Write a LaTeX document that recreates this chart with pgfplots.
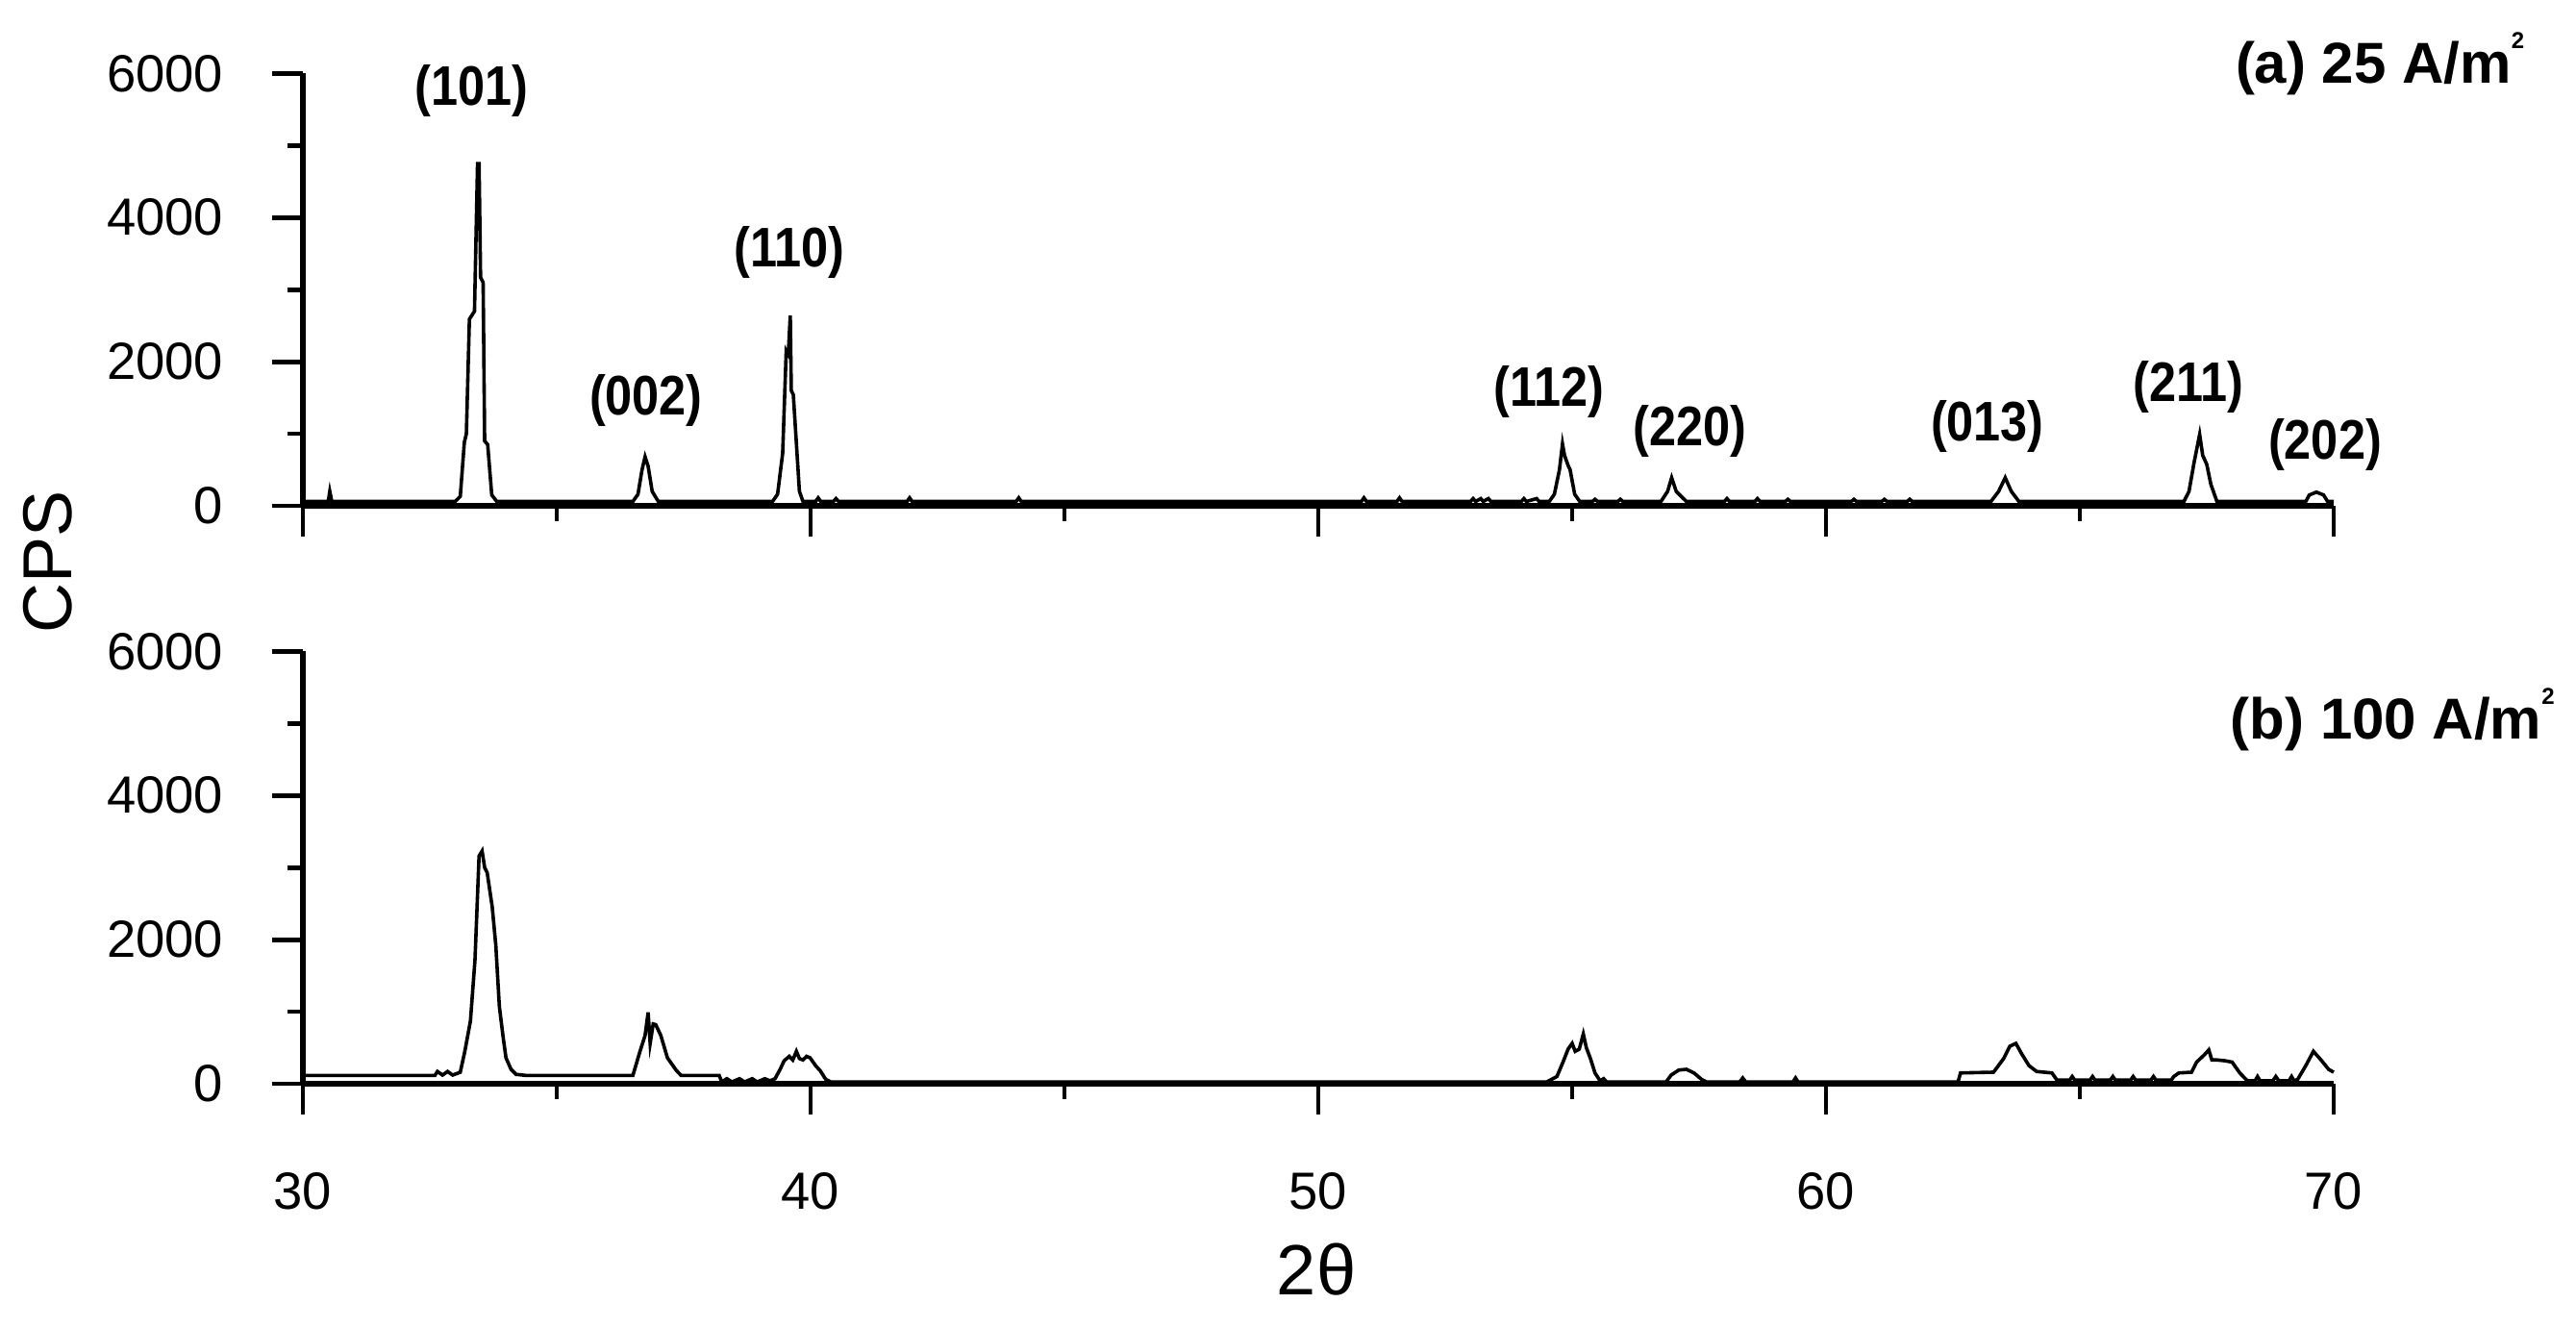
\documentclass[border=0pt]{standalone}
\usepackage{pgfplots}
\pgfplotsset{compat=1.18}
\usepackage{fontspec}
\setmainfont{Liberation Sans}
\usepackage{graphicx}

\newcommand{\pk}[1]{\scalebox{0.87}[1]{#1}}
\newcommand{\sq}{\raisebox{0.6em}{\fontsize{6}{6}\selectfont 2}}

\pgfplotsset{
  xrdaxis/.style={
    scale only axis, width=528pt, height=112.4pt,
    xmin=30, xmax=70, ymin=0, ymax=6000,
    axis lines*=left,
    axis line style={line width=1.3pt},
    xtick={30,40,50,60,70}, minor xtick={35,45,55,65},
    ytick={0,2000,4000,6000}, minor ytick={1000,3000,5000},
    tick align=outside,
    major tick length=8pt, minor tick length=4pt,
    tick style={line width=1.2pt, black},
    scaled y ticks=false,
    /pgf/number format/assume math mode=true,
    /pgf/number format/1000 sep={},
    ticklabel style={font=\fontsize{13.6}{16}\selectfont, inner sep=0pt},
    yticklabel style={xshift=-12.5pt},
    xticklabel style={yshift=-15pt},
    clip=false,
  },
}
\tikzset{pklabel/.style={font=\bfseries\fontsize{14.5}{16}\selectfont, inner sep=0pt}}

\begin{document}
\begin{tikzpicture}
\useasboundingbox (0,0) rectangle (669.75pt,345.25pt);

% (a) 25 A/m2
\begin{axis}[xrdaxis, at={(78.75pt,213.75pt)}, anchor=south west, xticklabels={}]
\addplot[black, line width=0.9pt] coordinates {
(30.0,60) (30.5,60) (30.53,200) (30.57,60) (31.8,60) (32.9,60)
(33.00,60) (33.10,130) (33.18,880) (33.22,1000) (33.28,2590) (33.38,2700) (33.44,4750) (33.47,4750) (33.50,3170) (33.55,3100) (33.58,900) (33.64,850) (33.72,150) (33.82,60)
(36.50,60) (36.60,160) (36.68,500) (36.74,680) (36.80,550) (36.88,200) (37.00,60)
(39.25,60) (39.35,160) (39.45,730) (39.52,2150) (39.56,2100) (39.60,2640) (39.62,1600) (39.66,1540) (39.72,870) (39.78,200) (39.85,60)
(40.1,60) (40.15,110) (40.2,60) (40.45,60) (40.5,100) (40.55,60) (41.9,60) (41.95,110) (42.0,60) (44.05,60) (44.1,110) (44.15,60)
(50.85,60) (50.9,110) (50.95,60) (51.55,60) (51.6,110) (51.65,60) (53.0,60) (53.05,100) (53.1,60) (53.2,100) (53.25,60) (53.35,100) (53.4,60) (54.0,60) (54.05,100) (54.1,60) (54.3,100) (54.35,60)
(54.55,60) (54.65,160) (54.75,500) (54.81,860) (54.85,700) (54.92,560) (54.96,500) (55.05,160) (55.15,60)
(55.4,60) (55.45,90) (55.5,60) (55.9,60) (55.95,90) (56.0,60)
(56.75,60) (56.88,200) (56.96,390) (57.05,200) (57.25,60)
(58.0,60) (58.05,100) (58.1,60) (58.6,60) (58.65,100) (58.7,60) (59.2,60) (59.25,90) (59.3,60) (60.5,60) (60.55,90) (60.6,60) (61.1,60) (61.15,90) (61.2,60) (61.6,60) (61.65,90) (61.7,60)
(63.25,60) (63.40,200) (63.53,390) (63.65,200) (63.80,60)
(67.05,60) (67.15,200) (67.25,600) (67.36,990) (67.42,700) (67.50,575) (67.58,300) (67.70,60)
(69.45,60) (69.52,150) (69.66,190) (69.80,150) (69.88,60) (70.0,60)
};
\node[pklabel] at (axis cs:33.32,5760) {\pk{(101)}};
\node[pklabel] at (axis cs:36.76,1457) {\pk{(002)}};
\node[pklabel] at (axis cs:39.58,3521) {\pk{(110)}};
\node[pklabel] at (axis cs:54.54,1584) {\pk{(112)}};
\node[pklabel] at (axis cs:57.32,1029) {\pk{(220)}};
\node[pklabel] at (axis cs:63.18,1096) {\pk{(013)}};
\node[pklabel] at (axis cs:67.14,1644) {\pk{(211)}};
\node[pklabel] at (axis cs:69.83,842) {\pk{(202)}};
\node[font=\bfseries\fontsize{15}{17}\selectfont, inner sep=0pt] at (axis cs:70.91,6134) {(a) 25 A/m\sq};
\end{axis}

% (b) 100 A/m2
\begin{axis}[xrdaxis, at={(78.75pt,63.5pt)}, anchor=south west]
\addplot[black, line width=0.9pt] coordinates {
(30.0,115) (32.6,115) (32.65,170) (32.75,120) (32.85,170) (32.95,120) (33.10,160) (33.19,450) (33.30,870) (33.39,1720) (33.47,3160) (33.53,3230) (33.58,3000) (33.63,2930) (33.73,2450) (33.80,1920) (33.87,1070) (33.94,670) (34.00,360) (34.10,200) (34.20,130) (34.40,115)
(36.50,115) (36.64,450) (36.74,670) (36.80,990) (36.84,560) (36.90,830) (36.95,820) (37.05,670) (37.18,360) (37.35,190) (37.45,115)
(38.20,115) (38.25,25) (38.35,70) (38.45,25) (38.60,70) (38.70,25) (38.85,70) (38.95,25) (39.10,70) (39.20,40) (39.30,70) (39.40,200) (39.48,320) (39.58,380) (39.65,330) (39.72,450) (39.78,350) (39.85,330) (39.92,380) (39.99,360) (40.10,250) (40.19,180) (40.30,60) (40.40,25)
(54.50,25) (54.70,100) (54.82,300) (54.92,480) (55.00,560) (55.06,450) (55.14,480) (55.22,690) (55.28,500) (55.36,350) (55.45,150) (55.55,40) (55.62,70) (55.68,25)
(56.85,25) (56.95,120) (57.10,190) (57.25,200) (57.40,150) (57.55,60) (57.65,25)
(58.3,25) (58.36,80) (58.42,25) (59.35,25) (59.4,80) (59.45,25)
(62.60,25) (62.65,150) (63.30,160) (63.50,350) (63.62,520) (63.74,560) (63.85,420) (64.00,250) (64.15,170) (64.45,150) (64.55,50)
(64.8,50) (64.85,100) (64.9,50) (65.2,50) (65.25,100) (65.3,50) (65.6,50) (65.65,100) (65.7,50) (66.0,50) (66.05,100) (66.1,50) (66.4,50) (66.45,100) (66.5,50) (66.8,50) (66.85,100) (66.95,150)
(67.20,160) (67.30,300) (67.45,400) (67.54,470) (67.60,330) (67.70,330) (67.85,320) (68.00,300) (68.15,150) (68.30,40)
(68.45,40) (68.5,100) (68.55,40) (68.8,40) (68.86,100) (68.92,40) (69.12,40) (69.17,100) (69.22,40) (69.29,60) (69.45,250) (69.60,450) (69.75,330) (69.90,200) (70.00,160)
};
\node[font=\bfseries\fontsize{15}{17}\selectfont, inner sep=0pt] at (axis cs:71.16,5053) {(b) 100 A/m\sq};
\end{axis}

\node[rotate=90, font=\fontsize{18}{20}\selectfont, inner sep=0pt] at (12.5pt,199.25pt) {CPS};
\node[font=\fontsize{18.5}{20}\selectfont, inner sep=0pt] at (342.25pt,15.25pt) {2θ};
\end{tikzpicture}
\end{document}
